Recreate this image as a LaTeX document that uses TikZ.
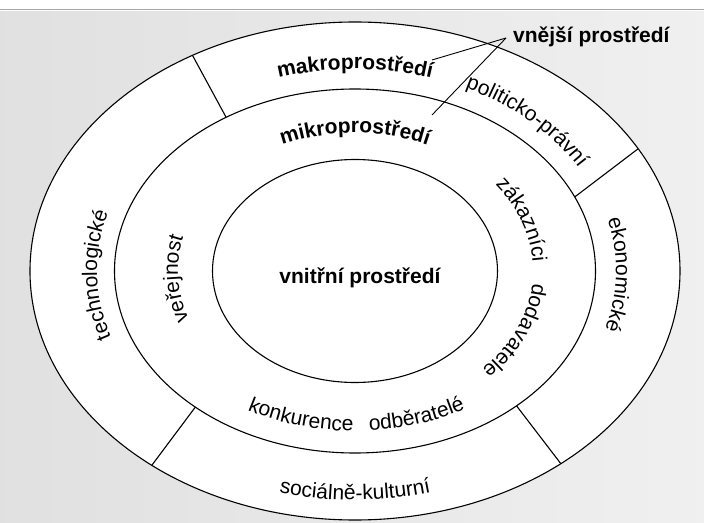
\documentclass[tikz,border=0pt]{standalone}
\usepackage{fontspec}
\setmainfont{Liberation Sans}
\usetikzlibrary{decorations.text}
\newcommand{\ringfont}{\fontsize{21}{25}\selectfont}
\tikzset{
  ring/.style={draw, fill=white, line width=1.1pt},
  divider/.style={line width=1.1pt},
  leader/.style={line width=0.9pt},
  hdr/.style={font=\ringfont\bfseries, inner sep=0pt},
  curved/.style={decorate, decoration={text along path, text align=center, text={#1}}},
}

\begin{document}
\begin{tikzpicture}[x=1pt, y=1pt]
  \useasboundingbox (-355,-251) rectangle (349,271);
  % scanned page background
  \fill[white] (-355,-251) rectangle (349,271);
  \fill[left color=gray!24, right color=gray!12] (-355,-251) rectangle (349,259);
  \draw[gray!70, line width=1pt] (-355,261) -- (349,261);
  % the three environments
  \draw[ring] (0,0) ellipse [x radius=325, y radius=249];
  \draw[ring] (0,0) ellipse [x radius=240.5, y radius=182];
  \draw[ring] (0,0) ellipse [x radius=142.5, y radius=111.5];
  % sectors of the macro ring
  \foreach \o/\m in {120/122.4, 29.4/24, 231.3/228.4, 309.3/312.2}
    \draw[divider] (\o:325 and 249) -- (\m:240.5 and 182);
  % macro ring
  \path[curved={|\ringfont\bfseries|makroprostředí}]
    (125:260 and 202) arc[start angle=125, end angle=55, x radius=260, y radius=202];
  \path[curved={|\ringfont|politicko-právní}]
    (81:260 and 202) arc[start angle=81, end angle=11, x radius=260, y radius=202];
  \path[curved={|\ringfont|ekonomické}]
    (34:261 and 202) arc[start angle=34, end angle=-36, x radius=261, y radius=202];
  \path[curved={|\ringfont|technologické}]
    (216:258 and 202) arc[start angle=216, end angle=146, x radius=258, y radius=202];
  \path[curved={|\ringfont|sociálně-kulturní}]
    (230:300 and 229) arc[start angle=230, end angle=310, x radius=300, y radius=229];
  % micro ring
  \path[curved={|\ringfont\bfseries|mikroprostředí}]
    (140:178 and 138) arc[start angle=140, end angle=40, x radius=178, y radius=138];
  \path[curved={|\ringfont|zákazníci}]
    (50:178 and 140) arc[start angle=50, end angle=-10, x radius=178, y radius=140];
  \path[curved={|\ringfont|dodavatele}]
    (6:178 and 140) arc[start angle=6, end angle=-54, x radius=178, y radius=140];
  \path[curved={|\ringfont|veřejnost}]
    (213:177 and 140) arc[start angle=213, end angle=153, x radius=177, y radius=140];
  \path[curved={|\ringfont|konkurence}]
    (229.5:217 and 160) arc[start angle=229.5, end angle=279.5, x radius=217, y radius=160];
  \path[curved={|\ringfont|odběratelé}]
    (262.7:217 and 160) arc[start angle=262.7, end angle=312.7, x radius=217, y radius=160];
  % inner environment
  \node[hdr] (vnitrni) at (5,-7) {vnitřní prostředí};
  % outer environment label with its two leaders
  \node[hdr, anchor=base west] (vnejsi) at (158,228) {vnější prostředí};
  \coordinate (apex) at (151,233);
  \coordinate (makroEnd) at (77,211);
  \coordinate (mikroEnd) at (77,156);
  \draw[leader] (makroEnd) -- (apex);
  \draw[leader] (mikroEnd) -- (apex);
\end{tikzpicture}
\end{document}
